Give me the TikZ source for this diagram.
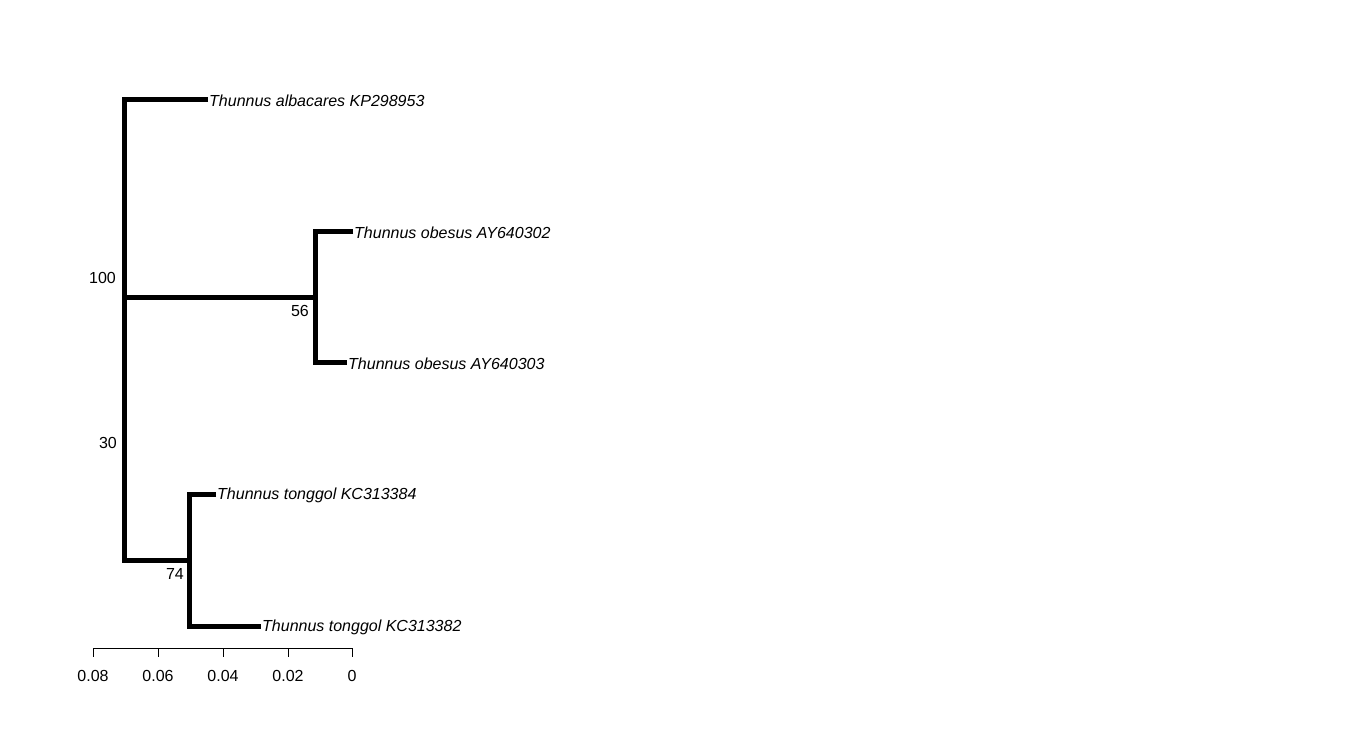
\documentclass[tikz,border=0pt]{standalone}
\usepackage{fontspec}
\setmainfont{Liberation Sans}
\newcommand{\treefont}{\fontsize{16}{19}\selectfont}
\tikzset{
  branch/.style={line width=5pt,line join=miter},
  tiplabel/.style={anchor=west,inner sep=1pt,font=\treefont\itshape},
  bootlabel/.style={anchor=east,inner sep=1pt},
}
\begin{document}
\begin{tikzpicture}[x=1pt,y=-1pt,font=\treefont]
\useasboundingbox (0,0) rectangle (1366,745);
% internal nodes
\coordinate (top) at (124,99);
\coordinate (root) at (124,297);
\coordinate (bot) at (124,560);
\coordinate (obe) at (315,297);
\coordinate (ton) at (189,560);
% tips
\node[tiplabel] (alb) at (208,101) {Thunnus albacares KP298953};
\node[tiplabel] (ob1) at (353,233) {Thunnus obesus AY640302};
\node[tiplabel] (ob2) at (347,364) {Thunnus obesus AY640303};
\node[tiplabel] (to1) at (216,495) {Thunnus tonggol KC313384};
\node[tiplabel] (to2) at (261,627) {Thunnus tonggol KC313382};
% branches
\draw[branch] (alb.west |- top) -- (top) -- (bot) -- (ton);
\draw[branch] (root) -- (obe);
\draw[branch] (ob1.west |- 0,231) -| (obe) |- (ob2.west |- 0,362);
\draw[branch] (to1.west |- 0,494) -| (ton) |- (to2.west |- 0,626);
% bootstrap values
\node[bootlabel] (b100) at (117,278) {100};
\node[bootlabel] (b30) at (118,443) {30};
\node[bootlabel] (b56) at (310,311) {56};
\node[bootlabel] (b74) at (185,574) {74};
% scale axis
\draw (93,648) -- (352,648);
\foreach \x/\t in {93/0.08,158/0.06,223/0.04,288/0.02,352/0} {
  \draw (\x,648) -- (\x,657);
  \node (tick\x) at (\x,676) {\t};
}
\end{tikzpicture}
\end{document}
